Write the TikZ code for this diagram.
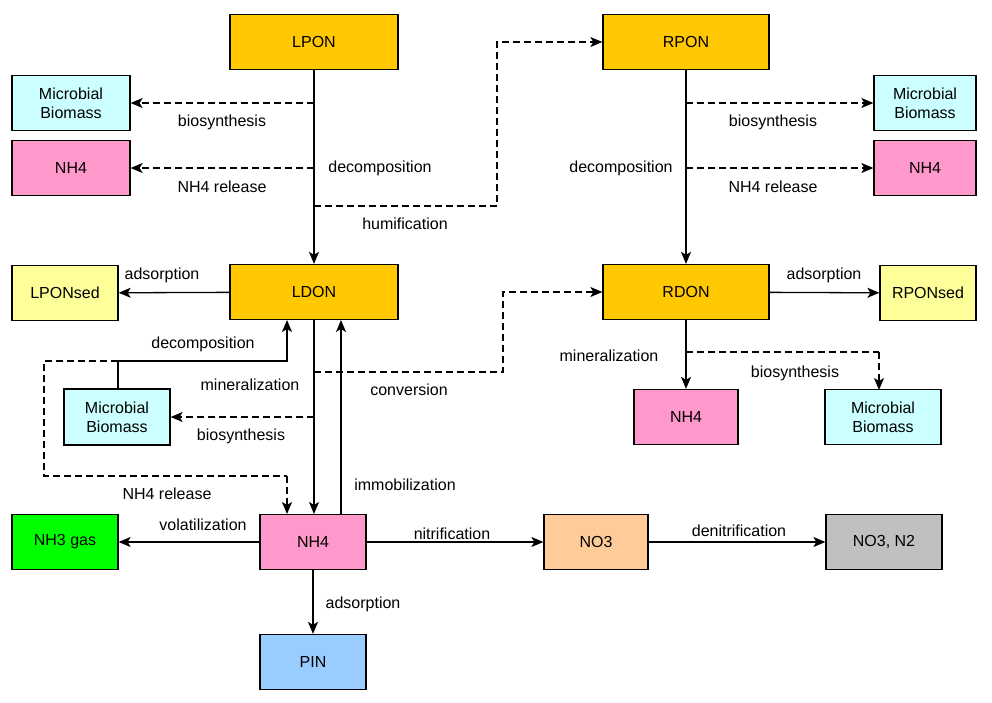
\documentclass[tikz,border=0pt]{standalone}
\usepackage{fontspec}
\setmainfont{Liberation Sans}
\usetikzlibrary{arrows.meta}
\definecolor{cOr}{HTML}{FFC800}
\definecolor{cMb}{HTML}{CCFFFF}
\definecolor{cNh}{HTML}{FF99CC}
\definecolor{cSed}{HTML}{FFFF99}
\definecolor{cGas}{HTML}{00FF00}
\definecolor{cNo}{HTML}{FFCC99}
\definecolor{cGr}{HTML}{C0C0C0}
\definecolor{cPin}{HTML}{99CCFF}
\begin{document}
\begin{tikzpicture}[x=1pt,y=-1pt,font=\fontsize{16}{19}\selectfont,
 box/.style={draw,line width=1.3pt,align=center,inner sep=0pt,minimum height=55pt},
 ar/.style={line width=1.3pt,-{Stealth[length=12pt,width=10pt,inset=3pt]}},
 da/.style={ar,dash pattern=on 7pt off 4pt},
 ln/.style={line width=1.3pt},
 dl/.style={ln,dash pattern=on 7pt off 4pt},
 lab/.style={inner sep=1pt}]
\useasboundingbox (0,0) rectangle (992,702);
\node[box,fill=cOr,minimum width=168pt] (lpon) at (314,42) {LPON};
\node[box,fill=cOr,minimum width=166pt] (rpon) at (686,42) {RPON};
\node[box,fill=cMb,minimum width=118pt] (mb1) at (71,103) {Microbial\\Biomass};
\node[box,fill=cNh,minimum width=118pt] (nh1) at (71,168) {NH4};
\node[box,fill=cMb,minimum width=102pt] (mb2) at (925,103) {Microbial\\Biomass};
\node[box,fill=cNh,minimum width=102pt] (nh2) at (925,168) {NH4};
\node[box,fill=cOr,minimum width=168pt] (ldon) at (314,292) {LDON};
\node[box,fill=cOr,minimum width=166pt] (rdon) at (686,292) {RDON};
\node[box,fill=cSed,minimum width=106pt] (lsed) at (65,293) {LPONsed};
\node[box,fill=cSed,minimum width=96pt] (rsed) at (928,293) {RPONsed};
\node[box,fill=cMb,minimum width=106pt,minimum height=56pt] (mb3) at (117,417) {Microbial\\Biomass};
\node[box,fill=cNh,minimum width=104pt] (nh3) at (686,417) {NH4};
\node[box,fill=cMb,minimum width=116pt] (mb4) at (883,417) {Microbial\\Biomass};
\node[box,fill=cNh,minimum width=106pt] (nh) at (313,542) {NH4};
\node[box,fill=cGas,minimum width=106pt] (gas) at (65,542) {NH3 gas};
\node[box,fill=cNo,minimum width=104pt] (no3) at (596,542) {NO3};
\node[box,fill=cGr,minimum width=116pt] (n2) at (884,542) {NO3, N2};
\node[box,fill=cPin,minimum width=106pt] (pin) at (313,662) {PIN};
\coordinate (a1) at (314,103); \coordinate (a2) at (314,168); \coordinate (a3) at (314,206);
\coordinate (b1) at (686,103); \coordinate (b2) at (686,168);
\coordinate (c1) at (118,361); \coordinate (c2) at (314,417); \coordinate (c3) at (314,372);
\coordinate (d1) at (686,352);
% LPON
\draw[ar] (lpon) -- (ldon);
\draw[da] (a1) -- (mb1.east);
\draw[da] (a2) -- (nh1.east);
\draw[da] (a3) -- (497,206) |- (rpon.west);
\node[lab] at (222,122) {biosynthesis};
\node[lab] at (222,187) {NH4 release};
\node[lab] at (380,168) {decomposition};
\node[lab] at (405,224) {humification};
% RPON
\draw[ar] (rpon) -- (rdon);
\draw[da] (b1) -- (mb2.west);
\draw[da] (b2) -- (nh2.west);
\node[lab] at (773,122) {biosynthesis};
\node[lab] at (773,187) {NH4 release};
\node[lab] at (621,168) {decomposition};
% LDON
\draw[ar] (ldon) -- (lsed);
\node[lab] at (162,275) {adsorption};
\draw[ln] (mb3.north -| c1) -- (c1);
\draw[ar] (c1) -- (287,361) -- (287,320);
\node[lab] at (203,344) {decomposition};
\draw[dl] (c1) -- (44,361) -- (44,476) -- (287,476);
\draw[da] (287,476) -- (287,514);
\node[lab] at (167,494) {NH4 release};
\draw[ar] (314,320) -- (314,514);
\draw[ar] (341,514) -- (341,320);
\node[lab] at (405,485) {immobilization};
\node[lab] at (250,385) {mineralization};
\draw[da] (c2) -- (mb3.east);
\node[lab] at (241,436) {biosynthesis};
\draw[da] (c3) -- (503,372) |- (rdon.west);
\node[lab] at (409,390) {conversion};
% RDON
\draw[ar] (rdon) -- (rsed);
\node[lab] at (824,275) {adsorption};
\draw[ar] (rdon) -- (nh3);
\node[lab] at (609,356) {mineralization};
\draw[dl] (d1) -- (879,352);
\draw[da] (879,352) -- (879,390);
\node[lab] at (795,373) {biosynthesis};
% NH4
\draw[ar] (nh) -- (gas);
\node[lab] at (203,525) {volatilization};
\draw[ar] (nh) -- (no3);
\node[lab] at (452,534) {nitrification};
\draw[ar] (no3) -- (n2);
\node[lab] at (739,531) {denitrification};
\draw[ar] (nh) -- (pin);
\node[lab] at (363,604) {adsorption};
\end{tikzpicture}
\end{document}
